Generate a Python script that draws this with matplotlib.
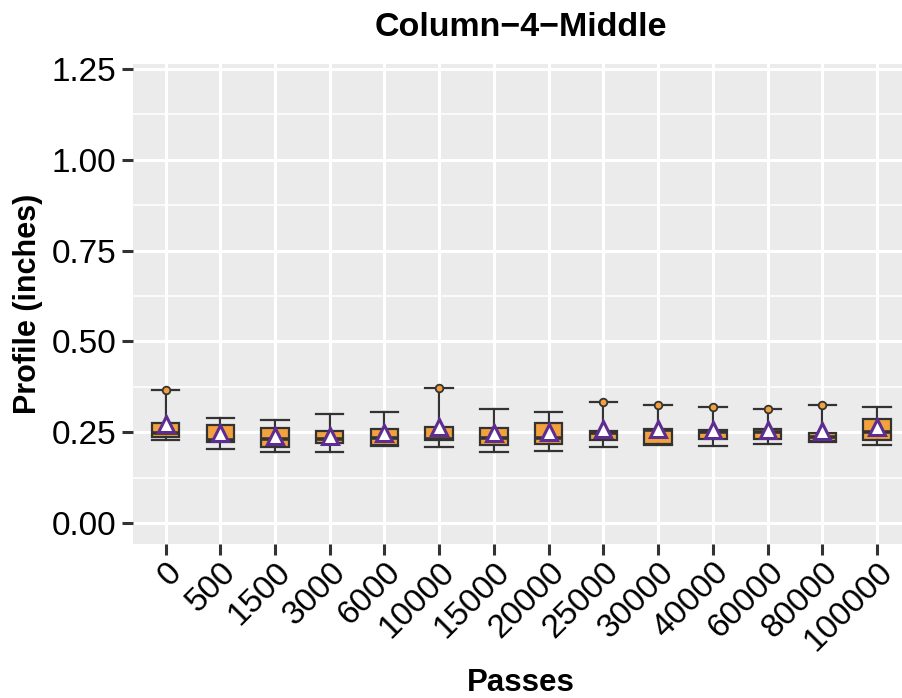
import matplotlib.pyplot as plt
from matplotlib.ticker import MultipleLocator

plt.rcParams['font.family'] = ['Liberation Sans', 'DejaVu Sans']

passes = ['0', '500', '1500', '3000', '6000', '10000', '15000', '20000',
          '25000', '30000', '40000', '60000', '80000', '100000']
whislo = [0.228, 0.203, 0.195, 0.195, 0.212, 0.208, 0.194, 0.199,
          0.209, 0.214, 0.211, 0.218, 0.224, 0.215]
q1 = [0.236, 0.224, 0.210, 0.221, 0.214, 0.228, 0.215, 0.218,
      0.228, 0.217, 0.230, 0.231, 0.226, 0.228]
med = [0.248, 0.228, 0.231, 0.231, 0.233, 0.232, 0.235, 0.235,
       0.248, 0.256, 0.251, 0.250, 0.237, 0.251]
q3 = [0.276, 0.270, 0.262, 0.252, 0.259, 0.265, 0.260, 0.276,
      0.253, 0.259, 0.256, 0.258, 0.247, 0.286]
whishi = [0.366, 0.290, 0.283, 0.300, 0.305, 0.371, 0.314, 0.305,
          0.333, 0.325, 0.319, 0.314, 0.325, 0.319]
means = [0.273, 0.247, 0.239, 0.240, 0.248, 0.263, 0.247, 0.249,
         0.258, 0.258, 0.256, 0.256, 0.253, 0.263]
# passes whose maximum is drawn as a point on the upper whisker
has_max_point = [True, False, False, False, False, True, False, False,
                 True, True, True, True, True, False]

orange = '#F2A13C'
purple = '#5E2D91'
dark = '#333333'

fig = plt.figure(figsize=(9.02, 6.98), dpi=100)
ax = fig.add_axes([0.1471, 0.2202, 0.8616, 0.6881])
ax.set_facecolor('#EBEBEB')

stats = []
for i in range(len(passes)):
    stats.append(dict(med=med[i], q1=q1[i], q3=q3[i], whislo=whislo[i],
                      whishi=whishi[i], fliers=[], label=passes[i]))
pos = list(range(1, len(passes) + 1))
ax.bxp(stats, positions=pos, widths=0.5, patch_artist=True, showfliers=False,
       boxprops=dict(facecolor=orange, edgecolor=dark, linewidth=1.6),
       medianprops=dict(color=dark, linewidth=2.6),
       whiskerprops=dict(color=dark, linewidth=1.6),
       capprops=dict(color=dark, linewidth=1.6), capwidths=0.5, zorder=3)

mx = [p for p, h in zip(pos, has_max_point) if h]
my = [w for w, h in zip(whishi, has_max_point) if h]
ax.plot(mx, my, 'o', ms=5.5, mfc=orange, mec=dark, mew=1.3, zorder=4)
ax.plot(pos, means, '^', ms=11, mfc='white', mec=purple, mew=2.2, zorder=5)

ax.set_xlim(0.4, 14.6)
ax.set_ylim(-0.059, 1.264)
ax.yaxis.set_minor_locator(MultipleLocator(0.125))
ax.set_yticks([0, 0.25, 0.5, 0.75, 1.0, 1.25])
ax.set_yticklabels(['0.00', '0.25', '0.50', '0.75', '1.00', '1.25'])
ax.set_xticks(pos)
ax.set_xticklabels(passes, rotation=45, ha='right', va='top',
                   rotation_mode='anchor')

ax.grid(which='major', color='white', linewidth=2.2, zorder=0)
ax.grid(which='minor', axis='y', color='white', linewidth=1.1, zorder=0)
ax.set_axisbelow(True)
for s in ax.spines.values():
    s.set_visible(False)
ax.tick_params(axis='both', which='major', length=8, width=2.2, color=dark,
               labelsize=24, labelcolor='black', pad=4)
ax.tick_params(axis='x', pad=1)
ax.tick_params(which='minor', length=0)

ax.set_title('Column\u22124\u2212Middle', fontsize=24.5, fontweight='bold', pad=20)
ax.set_xlabel('Passes', fontsize=22.5, fontweight='bold', labelpad=8)
ax.set_ylabel('Profile (inches)', fontsize=22, fontweight='bold', labelpad=6)

fig.savefig('out.png', dpi=100)
